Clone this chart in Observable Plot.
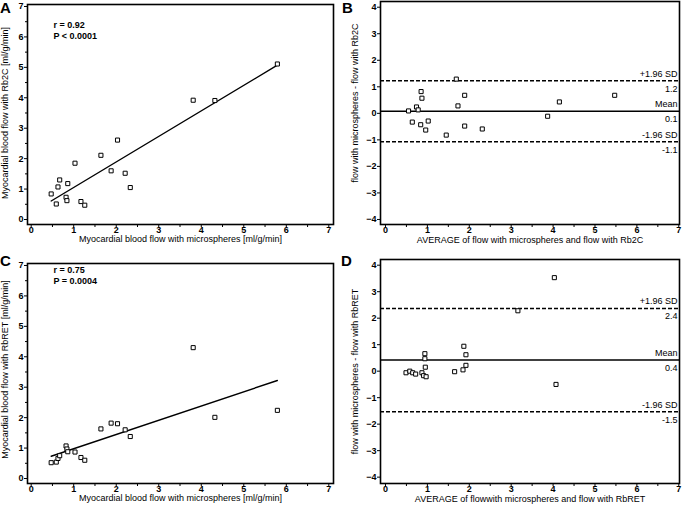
<!DOCTYPE html>
<html>
<head>
<meta charset="utf-8">
<script src="https://cdn.jsdelivr.net/npm/d3@7"></script>
<script src="https://cdn.jsdelivr.net/npm/@observablehq/plot@0.6"></script>
<style>
  body { margin: 0; background: #fff; }
  #root { position: relative; width: 685px; height: 508px; overflow: hidden; background: #fff;
          font-family: "Liberation Sans", Arial, sans-serif; }
  #root svg { position: absolute; }
  .letter { position: absolute; font: bold 15px "Liberation Sans", Arial, sans-serif; line-height: 1; color: #000; }
</style>
</head>
<body>
<div id="root"></div>
<script>
// ---- Data ----
// Panels A and C: flow with microspheres (x) vs. Rb2C / RbRET (y)
const microspheres = [0.47, 0.59, 0.63, 0.67, 0.82, 0.84, 0.86, 1.03, 1.17, 1.26, 1.64, 1.88, 2.03, 2.21, 2.33, 3.81, 4.32, 5.79];
const rb2c         = [0.84, 0.51, 1.07, 1.30, 0.73, 0.62, 1.18, 1.85, 0.59, 0.47, 2.11, 1.60, 2.61, 1.52, 1.05, 3.92, 3.91, 5.11];
const rbret        = [0.52, 0.54, 0.66, 0.75, 1.07, 0.97, 0.88, 0.87, 0.69, 0.60, 1.63, 1.82, 1.80, 1.60, 1.38, 4.30, 2.01, 2.24];

// Panel B: Bland-Altman, microspheres vs Rb2C
const avgRb2c  = [0.55, 0.64, 0.74, 0.78, 0.84, 0.85, 0.87, 0.96, 1.02, 1.45, 1.69, 1.73, 1.89, 1.89, 2.31, 3.87, 4.15, 5.47];
const diffRb2c = [0.09, -0.33, 0.24, 0.13, -0.43, 0.82, 0.57, -0.63, -0.29, -0.82, 1.29, 0.28, 0.68, -0.48, -0.59, -0.11, 0.43, 0.68];
const limitsRb2c = [1.23, 0.08, -1.07];
const limitValueLabelsRb2c = ["1.2", "0.1", "-1.1"];

// Panel D: Bland-Altman, microspheres vs RbRET
const avgRbret  = [0.49, 0.58, 0.65, 0.72, 0.87, 0.91, 0.97, 0.94, 0.94, 0.95, 1.65, 1.85, 1.87, 1.92, 1.92, 3.16, 4.03, 4.07];
const diffRbret = [-0.06, 0.00, -0.06, -0.11, -0.06, -0.17, -0.21, 0.66, 0.47, 0.15, -0.02, 0.05, 0.94, 0.62, 0.22, 2.28, 3.53, -0.50];
const limitsRbret = [2.37, 0.42, -1.53];
const limitValueLabelsRbret = ["2.4", "0.4", "-1.5"];

const limitNames = ["+1.96 SD", "Mean", "-1.96 SD"];

// Tick values
const xTicks = [0, 1, 2, 3, 4, 5, 6, 7];
const xMinorTicks = [0, 0.5, 1, 1.5, 2, 2.5, 3, 3.5, 4, 4.5, 5, 5.5, 6, 6.5, 7];
const yTicksFlow = [0, 1, 2, 3, 4, 5, 6, 7];
const yMinorTicksFlow = [0.5, 1.5, 2.5, 3.5, 4.5, 5.5, 6.5];
const yTicksDiff = [-4, -3, -2, -1, 0, 1, 2, 3, 4];

// Texts
const statsA = ["r = 0.92", "P < 0.0001"];
const statsC = ["r = 0.75", "P = 0.0004"];
const xTitleFlow = "Myocardial blood flow with microspheres [ml/g/min]";
const yTitleA = "Myocardial blood flow with Rb2C [ml/g/min]";
const yTitleC = "Myocardial blood flow with RbRET [ml/g/min]";
const xTitleB = "AVERAGE of flow with microspheres and flow with Rb2C";
const yTitleB = "flow with microspheres - flow with Rb2C";
const xTitleD = "AVERAGE of flowwith microspheres and flow with RbRET";
const yTitleD = "flow with microspheres - flow with RbRET";
const panelLetters = ["A", "B", "C", "D"];

// ---- Drawing ----
const root = document.getElementById("root");
const FONT = "Liberation Sans, Arial, sans-serif";

function place(svg, left, top) {
  svg.style.left = left + "px";
  svg.style.top = top + "px";
  root.appendChild(svg);
}

function commonAxes(yTicks, yMinor) {
  const marks = [
    Plot.axisX(xMinorTicks, {tickSize: 3, tickFormat: () => "", label: null, strokeWidth: 1}),
    Plot.axisX(xTicks, {tickSize: 0, tickPadding: 2, label: null, fontSize: 9, fontWeight: "bold"}),
    Plot.axisY(yTicks, {tickSize: 3, tickPadding: 1, label: null, fontSize: 9, fontWeight: "bold", strokeWidth: 1})
  ];
  if (yMinor) marks.push(Plot.axisY(yMinor, {tickSize: 2, tickFormat: () => "", label: null}));
  return marks;
}

function scatterPanel({xs, ys, stats, yTitle, left, top, titleDy, statsDy}) {
  const table = xs.map((x, i) => ({x, y: ys[i]}));
  const svg = Plot.plot({
    width: 342, height: 250,
    marginLeft: 27, marginRight: 9, marginTop: 4, marginBottom: 26,
    x: {domain: [-0.087, 7.11]},
    y: {domain: [-0.164, 7.065]},
    style: {fontFamily: FONT, fontSize: "9px", color: "#000", background: "transparent"},
    marks: [
      ...commonAxes(yTicksFlow, yMinorTicksFlow),
      Plot.linearRegressionY(table, {x: "x", y: "y", ci: 0, stroke: "black", strokeWidth: 1.4}),
      Plot.dot(table, {x: "x", y: "y", symbol: "square", r: 2.3, fill: "white", stroke: "black", strokeWidth: 1}),
      Plot.text([stats.join("\n")], {frameAnchor: "top-left", dx: 26, dy: statsDy, textAnchor: "start", lineAnchor: "top",
        fontSize: 9, fontWeight: "bold", lineHeight: 1.22}),
      Plot.text([xTitleFlow], {frameAnchor: "bottom", dy: 15, textAnchor: "middle", lineAnchor: "middle", fontSize: 9}),
      Plot.text([yTitle], {frameAnchor: "left", dx: -22, dy: titleDy, rotate: -90, textAnchor: "middle", lineAnchor: "middle", fontSize: 9}),
      Plot.frame({stroke: "black", strokeWidth: 1.6})
    ]
  });
  place(svg, left, top);
}

function blandPanel({avg, diff, limits, valueLabels, xTitle, yTitle, left, top, marginBottom, yDomain, titleDy}) {
  const table = avg.map((x, i) => ({x, y: diff[i]}));
  const limitTable = limits.map((v, i) => ({v, name: limitNames[i], label: valueLabels[i], dashed: i !== 1}));
  const svg = Plot.plot({
    width: 343, height: 250,
    marginLeft: 38, marginRight: 6, marginTop: 1, marginBottom,
    x: {domain: [-0.119, 7.017]},
    y: {domain: yDomain},
    style: {fontFamily: FONT, fontSize: "9px", color: "#000", background: "transparent"},
    marks: [
      ...commonAxes(yTicksDiff, null),
      Plot.ruleY(limitTable.filter(d => d.dashed), {y: "v", stroke: "black", strokeWidth: 1.5, strokeDasharray: "4,2"}),
      Plot.ruleY(limitTable.filter(d => !d.dashed), {y: "v", stroke: "black", strokeWidth: 1.5}),
      Plot.text(limitTable, {y: "v", text: "name", frameAnchor: "right", textAnchor: "end", lineAnchor: "middle", dx: -2, dy: -7, fontSize: 9}),
      Plot.text(limitTable, {y: "v", text: "label", frameAnchor: "right", textAnchor: "end", lineAnchor: "middle", dx: -2, dy: 8, fontSize: 9}),
      Plot.dot(table, {x: "x", y: "y", symbol: "square", r: 2.3, fill: "white", stroke: "black", strokeWidth: 1}),
      Plot.text([xTitle], {frameAnchor: "bottom", dy: 16, textAnchor: "middle", lineAnchor: "middle", fontSize: 9}),
      Plot.text([yTitle], {frameAnchor: "left", dx: -25, dy: titleDy, rotate: -90, textAnchor: "middle", lineAnchor: "middle", fontSize: 9}),
      Plot.frame({stroke: "black", strokeWidth: 1.6})
    ]
  });
  place(svg, left, top);
}

scatterPanel({xs: microspheres, ys: rb2c, stats: statsA, yTitle: yTitleA, left: 0, top: 0, titleDy: -1.5, statsDy: 16});
scatterPanel({xs: microspheres, ys: rbret, stats: statsC, yTitle: yTitleC, left: 0, top: 259, titleDy: -4, statsDy: 2});
blandPanel({avg: avgRb2c, diff: diffRb2c, limits: limitsRb2c, valueLabels: limitValueLabelsRb2c,
  xTitle: xTitleB, yTitle: yTitleB, left: 342, top: 0, marginBottom: 26, yDomain: [-4.19, 4.215], titleDy: -10});
blandPanel({avg: avgRbret, diff: diffRbret, limits: limitsRbret, valueLabels: limitValueLabelsRbret,
  xTitle: xTitleD, yTitle: yTitleD, left: 342, top: 258, marginBottom: 25, yDomain: [-4.24, 4.215], titleDy: 0});

// Panel letters
const letterPos = [[0, 0], [342, 0], [0, 253], [341, 253]];
panelLetters.forEach((t, i) => {
  const d = document.createElement("div");
  d.className = "letter";
  d.textContent = t;
  d.style.left = letterPos[i][0] + "px";
  d.style.top = letterPos[i][1] + "px";
  root.appendChild(d);
});
</script>
</body>
</html>
